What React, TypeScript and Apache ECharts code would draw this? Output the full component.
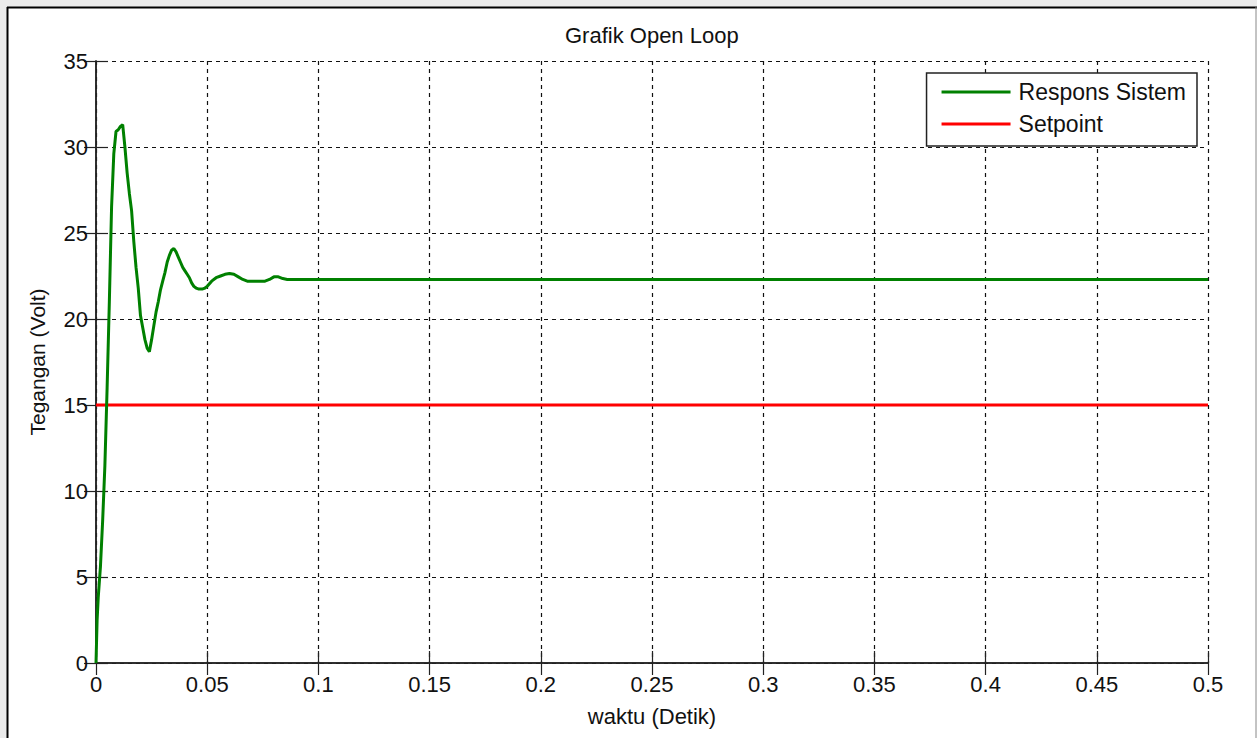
import React, { useEffect, useRef } from "react";
import * as echarts from "echarts";

const chartTitle = "Grafik Open Loop";
const xAxisName = "waktu (Detik)";
const yAxisName = "Tegangan (Volt)";
const seriesNames = ["Respons Sistem", "Setpoint"];

const responseTime = [
  0, 0.0005, 0.001, 0.002, 0.003, 0.004, 0.005, 0.006, 0.007, 0.008, 0.009,
  0.01, 0.011, 0.012, 0.013, 0.014, 0.015, 0.016, 0.017, 0.018, 0.019, 0.02,
  0.021, 0.022, 0.023, 0.024, 0.025, 0.026, 0.027, 0.028, 0.029, 0.03, 0.031,
  0.032, 0.033, 0.034, 0.035, 0.036, 0.037, 0.038, 0.039, 0.04, 0.041, 0.042,
  0.043, 0.044, 0.045, 0.046, 0.048, 0.049, 0.05, 0.052, 0.054, 0.056, 0.058,
  0.06, 0.062, 0.064, 0.066, 0.068, 0.072, 0.076, 0.078, 0.08, 0.082, 0.084,
  0.086, 0.1, 0.2, 0.3, 0.4, 0.5,
];
const responseVolt = [
  0, 2.5, 3.8, 5.6, 8.3, 11.5, 16, 21, 26.5, 29.6, 30.9,
  31.0, 31.2, 31.3, 30.0, 28.5, 27.3, 26.3, 24.5, 23.0, 21.8, 20.2,
  19.5, 18.8, 18.3, 18.1, 18.8, 19.6, 20.4, 21.0, 21.7, 22.2, 22.7,
  23.3, 23.7, 24.0, 24.1, 23.9, 23.6, 23.3, 23.0, 22.8, 22.6, 22.4,
  22.1, 21.9, 21.8, 21.75, 21.75, 21.8, 21.9, 22.2, 22.4, 22.5, 22.6,
  22.65, 22.6, 22.45, 22.3, 22.2, 22.2, 22.2, 22.3, 22.45, 22.45, 22.35,
  22.3, 22.3, 22.3, 22.3, 22.3, 22.3,
];
const setpointTime = [0, 0.5];
const setpointVolt = [15, 15];

const xMin = 0;
const xMax = 0.5;
const xStep = 0.05;
const yMin = 0;
const yMax = 35;
const yStep = 5;

const FONT = "'Liberation Sans', Arial, sans-serif";

export default function App() {
  const ref = useRef<HTMLDivElement>(null);

  useEffect(() => {
    if (!ref.current) return;
    const chart = echarts.init(ref.current, undefined, { renderer: "svg" });

    const responseData = responseTime.map((t, i) => [t, responseVolt[i]]);
    const setpointData = setpointTime.map((t, i) => [t, setpointVolt[i]]);

    const tickStyle = { show: true, inside: true, length: 12, lineStyle: { color: "#222", width: 1.2 } };
    const gridLine = { show: true, lineStyle: { color: "#111", width: 1.2, type: [4, 4] } };
    const axisLine = { show: true, lineStyle: { color: "#222", width: 1.5 } };

    chart.setOption({
      animation: false,
      backgroundColor: "#ffffff",
      textStyle: { fontFamily: FONT },
      title: {
        text: chartTitle,
        left: 560,
        top: 19,
        textStyle: { fontFamily: FONT, fontSize: 22, fontWeight: "normal", color: "#111" },
      },
      grid: {
        left: 96,
        right: 49,
        top: 61,
        bottom: 75,
        outerBoundsMode: "none",
        containLabel: false,
      },
      legend: {
        orient: "vertical",
        right: 60,
        top: 73,
        backgroundColor: "#ffffff",
        borderColor: "#222",
        borderWidth: 1.5,
        borderRadius: 0,
        padding: [7, 11, 10, 15],
        itemWidth: 69,
        itemHeight: 14,
        itemGap: 8,
        textStyle: { fontFamily: FONT, fontSize: 23, color: "#111", lineHeight: 24, padding: [0, 0, 0, 3] },
        data: seriesNames.map((n) => ({ name: n, icon: "path://M0,0L69,0L69,3L0,3Z" })),
      },
      xAxis: [
        {
          type: "value",
          min: xMin,
          max: xMax,
          interval: xStep,
          position: "bottom",
          name: xAxisName,
          nameLocation: "middle",
          nameGap: 42,
          nameTextStyle: { fontFamily: FONT, fontSize: 22, color: "#111" },
          axisLine,
          axisTick: tickStyle,
          splitLine: gridLine,
          axisLabel: {
            fontFamily: FONT,
            fontSize: 22,
            color: "#111",
            margin: 10,
            formatter: (v: number) => String(+v.toFixed(2)),
          },
        },
        {
          type: "value",
          min: xMin,
          max: xMax,
          interval: xStep,
          position: "top",
          axisLine,
          axisTick: tickStyle,
          splitLine: { show: false },
          axisLabel: { show: false },
        },
      ],
      yAxis: [
        {
          type: "value",
          min: yMin,
          max: yMax,
          interval: yStep,
          position: "left",
          name: yAxisName,
          nameLocation: "middle",
          nameGap: 48,
          nameTextStyle: { fontFamily: FONT, fontSize: 21, color: "#111" },
          axisLine,
          axisTick: tickStyle,
          splitLine: gridLine,
          axisLabel: { fontFamily: FONT, fontSize: 22, color: "#111", margin: 8 },
        },
        {
          type: "value",
          min: yMin,
          max: yMax,
          interval: yStep,
          position: "right",
          axisLine,
          axisTick: tickStyle,
          splitLine: { show: false },
          axisLabel: { show: false },
        },
      ],
      series: [
        {
          name: seriesNames[0],
          type: "line",
          data: responseData,
          showSymbol: false,
          symbol: "none",
          lineStyle: { color: "#008000", width: 3 },
          itemStyle: { color: "#008000" },
          z: 3,
        },
        {
          name: seriesNames[1],
          type: "line",
          data: setpointData,
          showSymbol: false,
          symbol: "none",
          lineStyle: { color: "#ff0000", width: 3 },
          itemStyle: { color: "#ff0000" },
          z: 2,
        },
      ],
      graphic: [
        { type: "rect", shape: { x: 0, y: 0, width: 1257, height: 7 }, style: { fill: "#ebebeb" }, silent: true },
        { type: "rect", shape: { x: 0, y: 0, width: 7, height: 738 }, style: { fill: "#ebebeb" }, silent: true },
        { type: "line", shape: { x1: 7, y1: 7.5, x2: 1257, y2: 7.5 }, style: { stroke: "#000", lineWidth: 2 }, silent: true },
        { type: "line", shape: { x1: 7.5, y1: 7, x2: 7.5, y2: 738 }, style: { stroke: "#000", lineWidth: 2 }, silent: true },
        { type: "line", shape: { x1: 1256, y1: 7, x2: 1256, y2: 738 }, style: { stroke: "#888", lineWidth: 1 }, silent: true },
      ],
    });

    return () => chart.dispose();
  }, []);

  return (
    <div
      ref={ref}
      style={{ position: "fixed", left: 0, top: 0, width: 1257, height: 738 }}
    />
  );
}
